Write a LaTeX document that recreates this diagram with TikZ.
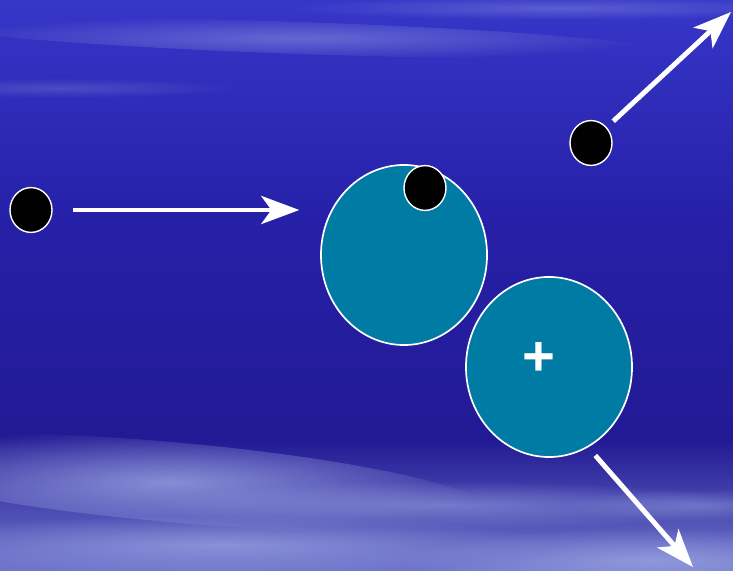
\documentclass[tikz,border=0pt]{standalone}
\usepackage{fontspec}
\setsansfont{Liberation Sans}
\usetikzlibrary{shapes.geometric, arrows.meta, fadings}

\definecolor{skytop}{RGB}{54,54,200}
\definecolor{skymid}{RGB}{38,32,168}
\definecolor{skylow}{RGB}{34,26,148}
\definecolor{skyfoot}{RGB}{112,118,204}
\definecolor{haze}{RGB}{160,170,228}
\definecolor{nucteal}{RGB}{0,124,164}

\tikzfading[name=soft, inner color=transparent!0, outer color=transparent!100]

\begin{document}
\begin{tikzpicture}[x=0.025cm, y=-0.025cm,
        electron/.style={ellipse, draw=white, line width=1pt, fill=black, minimum width=1.05cm, minimum height=1.12cm, inner sep=0pt},
        nucleus/.style={ellipse, draw=white, line width=1.2pt, fill=nucteal, minimum width=4.15cm, minimum height=4.5cm, inner sep=0pt},
        ray/.style={white, line width=3.5pt, -{Stealth[length=0.95cm, width=0.7cm, inset=0.25cm]}},
        streak/.style={fill=haze, path fading=soft}]
    \useasboundingbox (0,0) rectangle (733,571);
    \clip (0,0) rectangle (733,571);

    % sky
    \shade[top color=skytop, bottom color=skylow, middle color=skymid] (0,0) rectangle (733,440);
    \shade[top color=skylow, bottom color=skyfoot] (0,440) rectangle (733,571);
    \fill[streak, fill opacity=0.45, rotate around={-2:(300,38)}] (300,38) ellipse [x radius=360, y radius=16];
    \fill[streak, fill opacity=0.35] (560,8) ellipse [x radius=280, y radius=12];
    \fill[streak, fill opacity=0.25] (60,88) ellipse [x radius=180, y radius=10];
    \fill[streak, fill opacity=0.75, rotate around={-5:(170,482)}] (170,482) ellipse [x radius=320, y radius=40];
    \fill[streak, fill opacity=0.5] (450,505) ellipse [x radius=300, y radius=24];
    \fill[streak, fill opacity=0.65] (220,545) ellipse [x radius=340, y radius=30];
    \fill[streak, fill opacity=0.7] (650,560) ellipse [x radius=250, y radius=32];
    \fill[streak, fill opacity=0.4] (700,505) ellipse [x radius=140, y radius=16];

    \node[electron] (e1) at (31,210) {};
    \node[nucleus] (n1) at (404,255) {};
    \node[nucleus] (n2) at (549,367) {};
    \node[electron] (e2) at (425,188) {};
    \node[electron] (e3) at (591,143) {};
    \node[text=white, font=\sffamily\bfseries\fontsize{40}{40}\selectfont, inner sep=0pt] (plus) at (539,359) {+};

    \coordinate (out1) at (731,12);
    \coordinate (out2) at (693,567);

    \draw[ray] ([xshift=0.5cm]e1.east) -- ([xshift=-0.52cm]n1.west |- e1.east);
    \draw[ray, shorten <=0.22cm] (e3.45) -- (out1);
    \draw[ray, shorten <=0.27cm] (n2.-64) -- (out2);
\end{tikzpicture}
\end{document}
